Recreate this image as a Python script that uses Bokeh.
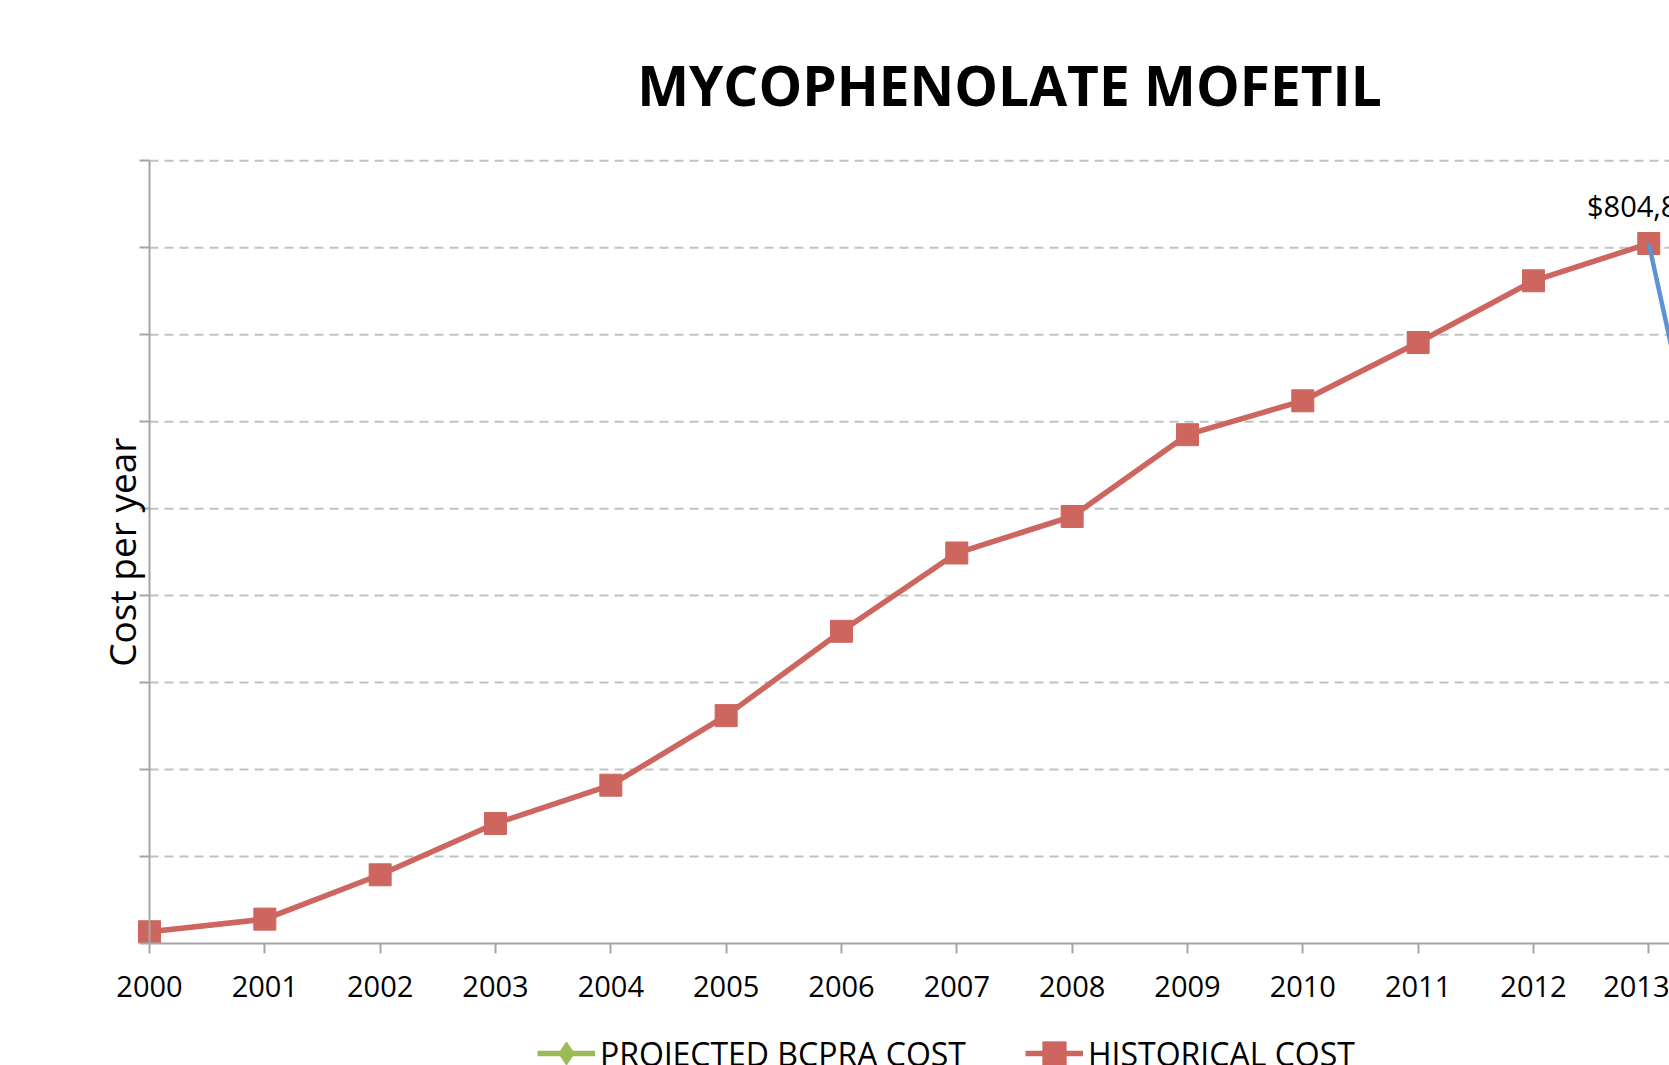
import math
from bokeh.plotting import figure
from bokeh.models import (Range1d, FixedTicker, Legend, LegendItem,
                          CustomJSTickFormatter, Label)
from bokeh.core.properties import value
from bokeh.embed import file_html
from bokeh.resources import INLINE

# ---------------- data ----------------
years = [2000, 2001, 2002, 2003, 2004, 2005, 2006, 2007, 2008, 2009, 2010, 2011, 2012, 2013]
historical_cost = [13500, 28000, 79000, 138000, 182000, 262000, 359000, 449000,
                   491000, 585000, 624000, 691000, 762000, 804850]
projected_years = [2013, 2014]
projected_cost = [804850, 200000]
bcpra_years = [2014]          # lies beyond the visible part of the chart
bcpra_cost = [200000]
y_ticks = [0, 100000, 200000, 300000, 400000, 500000, 600000, 700000, 800000, 900000]
tick_labels = [str(y) for y in years]
title_text = "MYCOPHENOLATE MOFETIL"
y_label = "Cost per year"
legend_labels = ["PROJECTED BCPRA COST", "HISTORICAL COST"]

# ---------------- layout (pixels) ----------------
W, H = 1669, 1065
X0_PX = 149.0          # pixel column of the first year (y axis)
PX_PER_YEAR = 115.33
Y0_PX = 943.0          # pixel row of the value 0 (x axis)
PX_PER_UNIT = 86.97 / 100000

x_start = years[0] - X0_PX / PX_PER_YEAR
x_end = years[0] + (W - X0_PX) / PX_PER_YEAR
y_start = y_ticks[0] - (H - Y0_PX) / PX_PER_UNIT
y_end = y_ticks[0] + Y0_PX / PX_PER_UNIT


def px_x(px):
    return x_start + px / PX_PER_YEAR


def px_y(py):
    return y_end - py / PX_PER_UNIT


RED = "#CD665F"
BLUE = "#5B93D3"
GREEN = "#9BBB59"
FONT = "Open Sans"
AX = "#A6A6A6"

p = figure(width=W, height=H, output_backend="svg", toolbar_location=None, title=None,
           x_range=Range1d(x_start, x_end), y_range=Range1d(y_start, y_end),
           min_border=0, min_border_left=0, min_border_right=0,
           min_border_top=0, min_border_bottom=0)
p.outline_line_color = None
p.xgrid.visible = False
p.ygrid.visible = False
p.background_fill_color = "white"
p.border_fill_color = "white"

# dashed gridlines from the y axis rightwards
g_y = y_ticks[1:]
p.segment(x0=[years[0]] * len(g_y), x1=[x_end] * len(g_y), y0=g_y, y1=g_y,
          line_color="#C2C2C2", line_width=2, line_dash="9 6")

# x axis (drawn at value 0)
xa = p.xaxis[0]
xa.fixed_location = y_ticks[0]
xa.ticker = FixedTicker(ticks=years)
xa.major_label_overrides = {y: l for y, l in zip(years, tick_labels)}
xa.bounds = (years[0], x_end)
xa.axis_line_color = AX
xa.axis_line_width = 2
xa.major_tick_line_color = AX
xa.major_tick_line_width = 2
xa.major_tick_out = 10
xa.major_tick_in = 0
xa.minor_tick_line_color = None
xa.major_label_text_font = FONT
xa.major_label_text_font_size = "29px"
xa.major_label_text_color = "black"
xa.major_label_standoff = 22

# y axis (drawn at the first year)
ya = p.yaxis[0]
ya.fixed_location = years[0]
ya.ticker = FixedTicker(ticks=y_ticks)
ya.bounds = (y_ticks[0], y_ticks[-1])
ya.formatter = CustomJSTickFormatter(code="return ''")
ya.axis_line_color = AX
ya.axis_line_width = 2
ya.major_tick_line_color = AX
ya.major_tick_line_width = 2
ya.major_tick_out = 10
ya.major_tick_in = 0
ya.minor_tick_line_color = None
ya.major_label_standoff = 0

# title
p.add_layout(Label(x=px_x(1009), y=px_y(84), text=title_text, text_align="center",
                   text_baseline="middle", text_font=FONT, text_font_size="55px",
                   text_font_style="bold", text_color="black"))

# y axis title
p.add_layout(Label(x=px_x(121), y=(y_ticks[0] + y_ticks[-1]) / 2,
                   text=y_label, angle=math.pi / 2, text_align="center",
                   text_baseline="middle", text_font=FONT, text_font_size="37px",
                   text_color="black"))

# series
g_line = p.line(bcpra_years, bcpra_cost, line_color=GREEN, line_width=5.5)
g_mark = p.scatter(bcpra_years, bcpra_cost, marker="diamond", size=24,
                   fill_color=GREEN, line_color=GREEN)
r_line = p.line(years, historical_cost, line_color=RED, line_width=5.5)
r_mark = p.scatter(years, historical_cost, marker="square", size=22,
                   fill_color=RED, line_color=RED)
b_line = p.line(projected_years, projected_cost, line_color=BLUE, line_width=4.5)

# data label on the last historical point
p.text(x=[years[-1]], y=[historical_cost[-1]], text=[f"${historical_cost[-1]:,}"],
       text_font=value(FONT), text_font_size="29px", text_color="black",
       text_align="center", text_baseline="alphabetic", y_offset=-38)

# legend (partly below the bottom edge, as in the source)
LEG_H = 58
legend = Legend(items=[LegendItem(label=legend_labels[0], renderers=[g_line, g_mark]),
                       LegendItem(label=legend_labels[1], renderers=[r_line, r_mark])],
                orientation="horizontal", location=(537, H - (1053 + LEG_H / 2)),
                glyph_width=58, glyph_height=LEG_H, label_text_font=FONT,
                label_text_font_size="32px", label_text_color="black",
                label_standoff=5, spacing=59,
                padding=0, margin=0, border_line_color=None, background_fill_alpha=0)
p.add_layout(legend)

open("out.html", "w").write(file_html(p, INLINE))
